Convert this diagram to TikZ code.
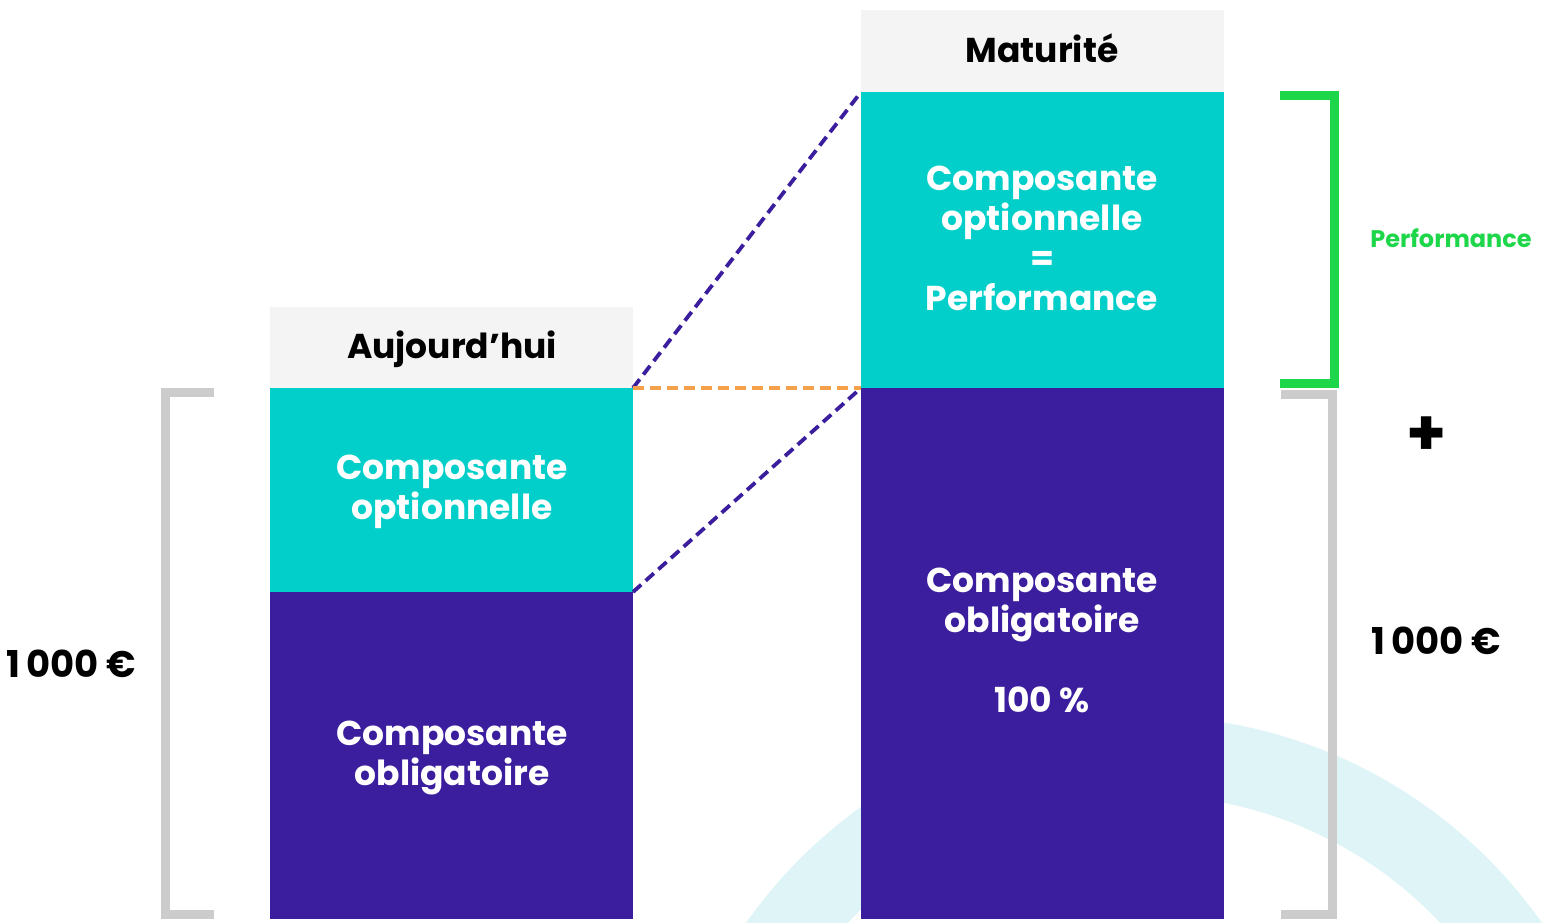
\documentclass[tikz,border=0pt]{standalone}
\usepackage{fontspec}
\setmainfont{Poppins}

\definecolor{optteal}{HTML}{02CFCA}
\definecolor{oblpurple}{HTML}{3B1E9E}
\definecolor{hdrgray}{HTML}{F4F4F4}
\definecolor{brkgray}{HTML}{CCCCCC}
\definecolor{perfgreen}{HTML}{1ED64A}
\definecolor{dashorange}{HTML}{F5A04A}
\definecolor{ringblue}{HTML}{DFF4F6}

\tikzset{
  block/.style={anchor=north west, inner sep=0pt, outer sep=0pt, draw=none},
  boxtext/.style={text=white, align=center, font=\fontsize{34.5pt}{40pt}\selectfont\bfseries},
  headtext/.style={text=black, font=\fontsize{34.5pt}{40pt}\selectfont\bfseries},
  amount/.style={text=black, font=\fontsize{37pt}{40pt}\selectfont\bfseries},
  bracketline/.style={line width=9pt, line cap=butt, line join=miter},
  linkline/.style={line width=3.8pt, dash pattern=on 11pt off 6pt},
}

\begin{document}
\begin{tikzpicture}[x=1pt, y=-1pt]
\useasboundingbox (0,0) rectangle (1543,922);

% background ring
\begin{scope}
  \clip (0,0) rectangle (1543,922);
  \fill[ringblue, even odd rule] (1144,1202) circle[radius=486] (1144,1202) circle[radius=407];
\end{scope}

% left column: today
\node[block, fill=hdrgray, minimum width=363pt, minimum height=81pt] (hdrL) at (270,307) {};
\node[block, fill=optteal, minimum width=363pt, minimum height=204pt] (optL) at (270,388) {};
\node[block, fill=oblpurple, minimum width=363pt, minimum height=327pt] (oblL) at (270,592) {};

% right column: maturity
\node[block, fill=hdrgray, minimum width=363pt, minimum height=82pt] (hdrR) at (861,10) {};
\node[block, fill=optteal, minimum width=363pt, minimum height=296pt] (optR) at (861,92) {};
\node[block, fill=oblpurple, minimum width=363pt, minimum height=531pt] (oblR) at (861,388) {};

% column texts
\node[headtext] (tHdrL) at (452,349) {Aujourd’hui};
\node[headtext] (tHdrR) at (1042,48) {Maturité};
\node[boxtext] (tOptL) at (452,492) {Composante\\optionnelle};
\node[boxtext] (tOblL) at (452,758) {Composante\\obligatoire};
\node[boxtext] (tOptR) at (1042,238) {Composante\\optionnelle\\=\\Performance};
\node[boxtext] (tOblR) at (1042,605) {Composante\\obligatoire};
\node[boxtext] (tPct) at (1042,700) {100 \%};

% links between the two columns
\draw[linkline, oblpurple] (optL.north east) -- (optR.north west);
\draw[linkline, oblpurple] (optL.south east) -- (oblR.north west);
\draw[linkline, dashorange] (optL.north east) -- (oblR.north west);

% brackets
\draw[bracketline, brkgray] (214,392) -- (165,392) -- (165,914) -- (214,914);
\draw[bracketline, brkgray] (1281,394) -- (1332,394) -- (1332,914) -- (1281,914);
\draw[bracketline, perfgreen] (1280,95) -- (1334,95) -- (1334,383) -- (1280,383);

% amounts and labels
\node[amount] (amtL) at (71,664) {1\,000 €};
\node[amount] (amtR) at (1436,641) {1\,000 €};
\node[text=black, font=\fontsize{64pt}{64pt}\selectfont\bfseries] (plus) at (1427,436) {+};
\node[text=perfgreen, font=\fontsize{24pt}{28pt}\selectfont\bfseries] (perf) at (1451,238) {Performance};

\end{tikzpicture}
\end{document}
